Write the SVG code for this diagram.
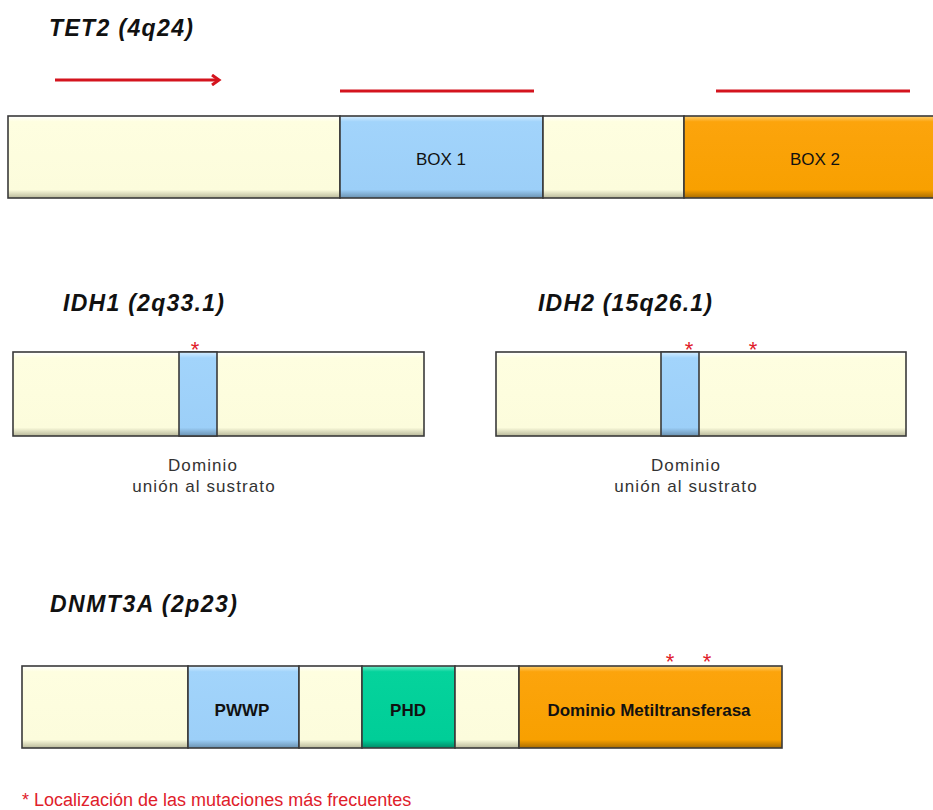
<svg xmlns="http://www.w3.org/2000/svg" width="933" height="810" viewBox="0 0 933 810">
<style>
.title{font-family:"Liberation Sans",Arial,sans-serif;font-weight:bold;font-style:italic;font-size:23px;fill:#111}
.box{stroke:#3a3a3a;stroke-width:1.6}
.lbl{font-family:"Liberation Sans",Arial,sans-serif;font-size:17px;fill:#111;text-anchor:middle}
.blbl{font-family:"Liberation Sans",Arial,sans-serif;font-weight:bold;font-size:17px;fill:#111;text-anchor:middle}
.cap{font-family:"Liberation Sans",Arial,sans-serif;font-size:17px;fill:#333;text-anchor:middle;letter-spacing:1.1px}
.star{font-family:"Liberation Sans",Arial,sans-serif;font-size:22px;fill:#e0202a;text-anchor:middle}
.red{stroke:#d4141e;stroke-width:3;fill:none}
.legend{font-family:"Liberation Sans",Arial,sans-serif;font-size:18px;fill:#e0202a}
</style>
<defs>
<linearGradient id="gc" x1="0" y1="0" x2="0" y2="1">
<stop offset="0" stop-color="#ffffff"/><stop offset="0.07" stop-color="#fefee0"/><stop offset="0.9" stop-color="#fcfcdc"/><stop offset="1" stop-color="#b8b89a"/>
</linearGradient>
<linearGradient id="gb" x1="0" y1="0" x2="0" y2="1">
<stop offset="0" stop-color="#d6eeff"/><stop offset="0.07" stop-color="#a2d4fb"/><stop offset="0.9" stop-color="#9ccff8"/><stop offset="1" stop-color="#6a91b0"/>
</linearGradient>
<linearGradient id="go" x1="0" y1="0" x2="0" y2="1">
<stop offset="0" stop-color="#ffd070"/><stop offset="0.07" stop-color="#fca40c"/><stop offset="0.9" stop-color="#f8a000"/><stop offset="1" stop-color="#a86c00"/>
</linearGradient>
<linearGradient id="gg" x1="0" y1="0" x2="0" y2="1">
<stop offset="0" stop-color="#70ecc8"/><stop offset="0.07" stop-color="#05d39c"/><stop offset="0.9" stop-color="#00ce98"/><stop offset="1" stop-color="#008a66"/>
</linearGradient>
<marker id="ah" markerWidth="12" markerHeight="12" refX="9" refY="6" orient="auto" markerUnits="userSpaceOnUse">
<path d="M2,1 L9,6 L2,11" fill="none" stroke="#d4141e" stroke-width="3"/>
</marker>
</defs>

<g id="tet2">
<text class="title" x="49" y="36" textLength="144" lengthAdjust="spacing">TET2 (4q24)</text>
<rect class="box" x="8" y="116" width="332" height="82" fill="url(#gc)"/>
<rect class="box" x="340" y="116" width="203" height="82" fill="url(#gb)"/>
<rect class="box" x="543" y="116" width="141" height="82" fill="url(#gc)"/>
<rect class="box" x="684" y="116" width="260" height="82" fill="url(#go)"/>
<text class="lbl" x="441" y="165">BOX 1</text>
<text class="lbl" x="815" y="165">BOX 2</text>
</g>

<g id="connectors">
<line class="red" x1="55" y1="80" x2="219" y2="80" marker-end="url(#ah)"/>
<line class="red" x1="340" y1="91" x2="534" y2="91"/>
<line class="red" x1="716" y1="91" x2="910" y2="91"/>
</g>

<g id="idh1">
<text class="title" x="63" y="311" textLength="161" lengthAdjust="spacing">IDH1 (2q33.1)</text>
<rect class="box" x="13" y="352" width="411" height="84" fill="url(#gc)"/>
<rect class="box" x="179" y="352" width="38" height="84" fill="url(#gb)"/>
<text class="star" x="195" y="357">*</text>
<text class="cap" x="203" y="471">Dominio</text>
<text class="cap" x="204" y="492">unión al sustrato</text>
</g>

<g id="idh2">
<text class="title" x="538" y="311" textLength="174" lengthAdjust="spacing">IDH2 (15q26.1)</text>
<rect class="box" x="496" y="352" width="410" height="84" fill="url(#gc)"/>
<rect class="box" x="661" y="352" width="38" height="84" fill="url(#gb)"/>
<text class="star" x="689" y="357">*</text>
<text class="star" x="753" y="357">*</text>
<text class="cap" x="686" y="471">Dominio</text>
<text class="cap" x="686" y="492">unión al sustrato</text>
</g>

<g id="dnmt3a">
<text class="title" x="50" y="612" textLength="187" lengthAdjust="spacing">DNMT3A (2p23)</text>
<rect class="box" x="22" y="666" width="166" height="82" fill="url(#gc)"/>
<rect class="box" x="188" y="666" width="111" height="82" fill="url(#gb)"/>
<rect class="box" x="299" y="666" width="63" height="82" fill="url(#gc)"/>
<rect class="box" x="362" y="666" width="93" height="82" fill="url(#gg)"/>
<rect class="box" x="455" y="666" width="64" height="82" fill="url(#gc)"/>
<rect class="box" x="519" y="666" width="263" height="82" fill="url(#go)"/>
<text class="blbl" x="242" y="716">PWWP</text>
<text class="blbl" x="408" y="716">PHD</text>
<text class="blbl" x="649" y="716">Dominio Metiltransferasa</text>
<text class="star" x="670" y="669">*</text>
<text class="star" x="707" y="669">*</text>
</g>

<g id="legend">
<text class="legend" x="22" y="806">*  Localización de las mutaciones más frecuentes</text>
</g>
</svg>
